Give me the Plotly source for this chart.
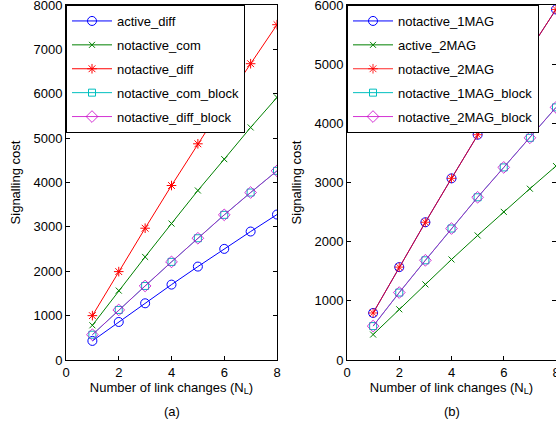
import plotly.graph_objects as go

nl = [1, 2, 3, 4, 5, 6, 7, 8]

# Panel (a)
active_diff = [430, 857, 1278, 1699, 2105, 2504, 2895, 3278]
notactive_com = [782, 1564, 2323, 3075, 3820, 4526, 5241, 5917]
notactive_diff = [1000, 1992, 2970, 3932, 4872, 5790, 6677, 7556]
notactive_com_block = [570, 1128, 1669, 2211, 2744, 3271, 3774, 4263]
notactive_diff_block = [570, 1128, 1669, 2211, 2744, 3271, 3774, 4263]

# Panel (b)
notactive_1MAG = [795, 1570, 2328, 3070, 3808, 4530, 5245, 5925]
active_2MAG = [430, 857, 1278, 1699, 2105, 2504, 2895, 3278]
notactive_2MAG = [795, 1570, 2328, 3070, 3808, 4530, 5245, 5925]
notactive_1MAG_block = [573, 1140, 1685, 2222, 2750, 3255, 3755, 4270]
notactive_2MAG_block = [573, 1140, 1685, 2222, 2750, 3255, 3755, 4270]

xticks = [0, 2, 4, 6, 8]
yticks_a = [0, 1000, 2000, 3000, 4000, 5000, 6000, 7000, 8000]
yticks_b = [0, 1000, 2000, 3000, 4000, 5000, 6000]

BLUE = "#0000FF"
GREEN = "#008000"
RED = "#FF0000"
CYAN = "#00BFBF"
MAG = "rgba(200,0,200,0.8)"
RED_B = "rgba(255,0,0,0.85)"

FONT = "Liberation Sans, Arial, Helvetica, sans-serif"
FS = 13

fig = go.Figure()

def add(name, y, color, symbol, size, xa, ya, legend, grp):
    fig.add_trace(go.Scatter(
        x=nl, y=y, name=name, mode="lines+markers",
        line=dict(color=color, width=1),
        marker=dict(symbol=symbol, size=size, color=color,
                    line=dict(color=color, width=1)),
        xaxis=xa, yaxis=ya, legend=legend, legendgroup=grp,
    ))

add("active_diff", active_diff, BLUE, "circle-open", 9, "x", "y", "legend", "a1")
add("notactive_com", notactive_com, GREEN, "x-thin-open", 6, "x", "y", "legend", "a2")
add("notactive_diff", notactive_diff, RED, "asterisk-open", 8, "x", "y", "legend", "a3")
add("notactive_com_block", notactive_com_block, CYAN, "square-open", 7, "x", "y", "legend", "a4")
add("notactive_diff_block", notactive_diff_block, MAG, "diamond-open", 9, "x", "y", "legend", "a5")

add("notactive_1MAG", notactive_1MAG, BLUE, "circle-open", 9, "x2", "y2", "legend2", "b1")
add("active_2MAG", active_2MAG, GREEN, "x-thin-open", 6, "x2", "y2", "legend2", "b2")
add("notactive_2MAG", notactive_2MAG, RED_B, "asterisk-open", 8, "x2", "y2", "legend2", "b3")
add("notactive_1MAG_block", notactive_1MAG_block, CYAN, "square-open", 7, "x2", "y2", "legend2", "b4")
add("notactive_2MAG_block", notactive_2MAG_block, MAG, "diamond-open", 9, "x2", "y2", "legend2", "b5")

L, R, T, B = 66, 0, 5, 69
W, H = 556, 429
pw = W - L - R
d1 = [0, 211 / pw]
d2 = [(347 - L) / pw, 1]

xax = dict(range=[0, 8], tickvals=xticks, ticks="inside", ticklen=4,
           showline=True, linecolor="black", linewidth=1, mirror="ticks",
           showgrid=False, zeroline=False, tickcolor="black", automargin=False,
           tickfont=dict(size=FS, color="black"),
           title=dict(text="Number of link changes (N<sub>L</sub>)",
                      font=dict(size=FS, color="black"), standoff=3),
           ticklabeloverflow="allow")
yax = dict(ticks="inside", ticklen=4, showline=True, linecolor="black",
           linewidth=1, mirror="ticks", showgrid=False, zeroline=False,
           tickcolor="black", automargin=False, ticklabeloverflow="allow",
           tickfont=dict(size=FS, color="black"),
           title=dict(text="Signalling cost", font=dict(size=FS, color="black"),
                      standoff=9))

fig.update_layout(
    width=W, height=H,
    margin=dict(l=L, r=R, t=T, b=B),
    paper_bgcolor="white", plot_bgcolor="white",
    font=dict(family=FONT, size=FS, color="black"),
    hovermode=False,
    xaxis=dict(xax, domain=d1),
    yaxis=dict(yax, range=[0, 8000], tickvals=yticks_a, anchor="x"),
    xaxis2=dict(xax, domain=d2, anchor="y2"),
    yaxis2=dict(yax, range=[0, 6000], tickvals=yticks_b, anchor="x2"),
    legend=dict(x=d1[0], y=1, xanchor="left", yanchor="top",
                bgcolor="white", bordercolor="black", borderwidth=1,
                font=dict(size=FS, color="black"), tracegroupgap=4,
                itemwidth=40),
    legend2=dict(x=d2[0], y=1, xanchor="left", yanchor="top",
                 bgcolor="white", bordercolor="black", borderwidth=1,
                 font=dict(size=FS, color="black"), tracegroupgap=4,
                 itemwidth=40),
    showlegend=True,
    annotations=[
        dict(text="(a)", xref="paper", yref="paper",
             x=(d1[0] + d1[1]) / 2, y=(H - B - 411) / (H - T - B),
             showarrow=False, font=dict(size=FS, color="black"),
             xanchor="center", yanchor="middle"),
        dict(text="(b)", xref="paper", yref="paper",
             x=(d2[0] + 1) / 2, y=(H - B - 411) / (H - T - B),
             showarrow=False, font=dict(size=FS, color="black"),
             xanchor="center", yanchor="middle"),
    ],
)

fig.write_html(
    "out.html",
    config={"displayModeBar": False},
    post_script="document.body.style.margin='0px';document.body.style.overflow='hidden';",
)
